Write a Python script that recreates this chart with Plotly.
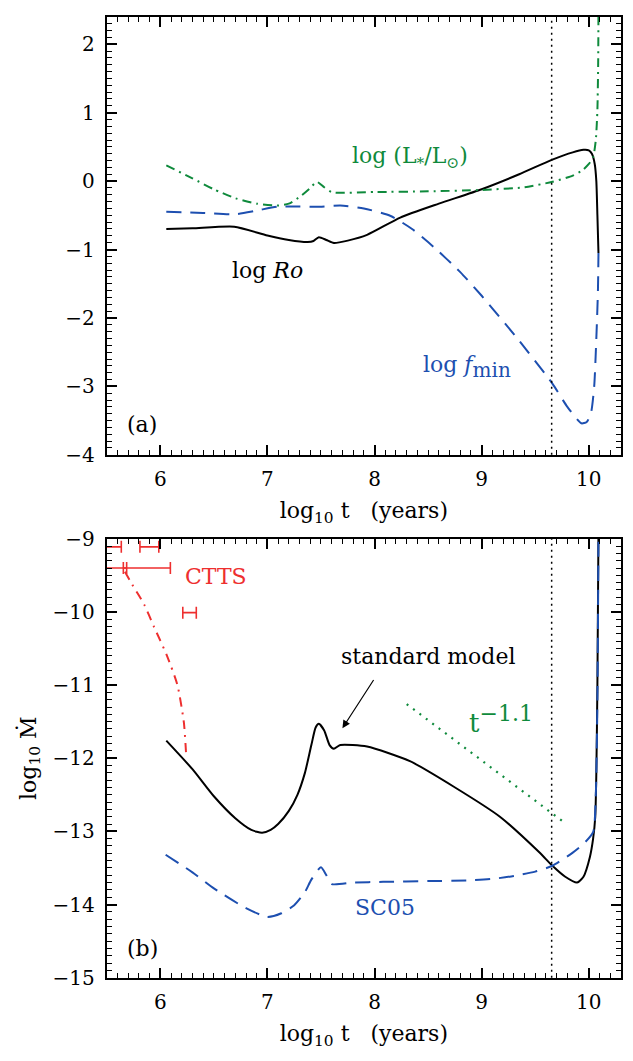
import plotly.graph_objects as go

# ---------------- data ----------------
# Panel (a)
ro_t = [6.056, 6.3, 6.69, 7.0, 7.2, 7.375, 7.43, 7.48, 7.55, 7.62, 7.75, 7.93, 8.24, 8.6, 9.0,
        9.35, 9.66, 9.85, 9.95, 10.0, 10.03, 10.055, 10.07, 10.08, 10.09]
ro_v = [-0.70, -0.69, -0.667, -0.795, -0.86, -0.89, -0.875, -0.82, -0.86, -0.905, -0.87, -0.786,
        -0.533, -0.33, -0.119, 0.10, 0.314, 0.42, 0.457, 0.45, 0.395, 0.25, 0.0, -0.5, -1.05]

fmin_t = [6.056, 6.4, 6.69, 6.9, 7.09, 7.3, 7.49, 7.68, 7.9, 8.15, 8.35, 8.55, 8.8, 9.0, 9.33,
          9.66, 9.8, 9.93, 9.98, 10.02, 10.05, 10.07, 10.085, 10.09]
fmin_v = [-0.448, -0.465, -0.486, -0.43, -0.376, -0.37, -0.376, -0.357, -0.40, -0.51, -0.70,
          -0.96, -1.33, -1.676, -2.295, -2.96, -3.30, -3.54, -3.52, -3.39, -3.0, -2.30, -1.6, -1.05]

lum_t = [6.056, 6.3, 6.5, 6.7, 6.9, 7.09, 7.2, 7.31, 7.4, 7.46, 7.53, 7.60, 8.0, 8.5, 9.0, 9.4,
         9.66, 9.85, 9.94, 10.0, 10.04, 10.065, 10.08, 10.087, 10.09]
lum_v = [0.229, 0.04, -0.12, -0.25, -0.33, -0.357, -0.33, -0.22, -0.10, -0.01, -0.09, -0.162,
         -0.16, -0.15, -0.129, -0.09, -0.01, 0.08, 0.157, 0.25, 0.348, 0.6, 1.04, 1.7, 2.5]

# Panel (b)
mdot_t = [6.056, 6.3, 6.5, 6.7, 6.85, 6.95, 7.03, 7.1, 7.2, 7.28, 7.35, 7.41, 7.45, 7.48, 7.53,
          7.58, 7.62, 7.68, 7.93, 8.33, 8.74, 9.17, 9.54, 9.66, 9.78, 9.89, 9.95, 10.01, 10.04,
          10.06, 10.07, 10.08, 10.09]
mdot_v = [-11.76, -12.15, -12.52, -12.82, -12.98, -13.02, -12.98, -12.9, -12.72, -12.5, -12.2,
          -11.82, -11.58, -11.53, -11.62, -11.82, -11.87, -11.82, -11.84, -12.04, -12.39, -12.80,
          -13.29, -13.47, -13.62, -13.70, -13.62, -13.35, -13.1, -12.8, -12.2, -11.0, -8.9]

sc05_t = [6.05, 6.3, 6.5, 6.8, 7.0, 7.13, 7.25, 7.35, 7.41, 7.5, 7.55, 7.60, 7.8, 8.08, 8.5,
          8.86, 9.1, 9.30, 9.5, 9.66, 9.85, 9.95, 10.04, 10.065, 10.08, 10.09]
sc05_v = [-13.32, -13.56, -13.78, -14.05, -14.17, -14.12, -14.01, -13.83, -13.66, -13.49, -13.6,
          -13.72, -13.70, -13.69, -13.68, -13.67, -13.65, -13.61, -13.55, -13.47, -13.29, -13.17,
          -13.01, -12.5, -11.2, -8.9]

ctts_t = [5.67, 5.74, 5.85, 5.94, 6.06, 6.16, 6.22, 6.24]
ctts_v = [-9.45, -9.63, -9.90, -10.2, -10.59, -11.0, -11.51, -11.92]

# CTTS observed age ranges (horizontal bars)
ctts_lo = [5.2, 5.81, 5.2, 5.655, 6.21]
ctts_hi = [5.636, 5.986, 5.686, 6.094, 6.336]
ctts_y = [-9.11, -9.11, -9.40, -9.40, -10.01]

# t^-1.1 reference line
pl_t = [8.30, 9.79]
pl_v = [-11.26, -12.90]

SUN_AGE = 9.653  # log10(4.5 Gyr)

x_ticks = [6, 7, 8, 9, 10]

# ---------------- style ----------------
BLACK = "#000000"
BLUE = "#1d4fb0"
GREEN = "#0f8a3c"
RED = "#ee2f2f"
FONT = "DejaVu Serif"
SM = 0.6

fig = go.Figure()

# panel (a)
fig.add_trace(go.Scatter(x=ro_t, y=ro_v, mode="lines",
                         line=dict(color=BLACK, width=2, shape="spline", smoothing=SM),
                         xaxis="x", yaxis="y"))
fig.add_trace(go.Scatter(x=fmin_t, y=fmin_v, mode="lines",
                         line=dict(color=BLUE, width=2, dash="15px,9px", shape="spline",
                                   smoothing=SM), xaxis="x", yaxis="y"))
fig.add_trace(go.Scatter(x=lum_t, y=lum_v, mode="lines",
                         line=dict(color=GREEN, width=2, dash="9px,5px,2px,5px", shape="spline",
                                   smoothing=SM), xaxis="x", yaxis="y"))

# panel (b)
fig.add_trace(go.Scatter(x=mdot_t, y=mdot_v, mode="lines",
                         line=dict(color=BLACK, width=2, shape="spline", smoothing=SM),
                         xaxis="x2", yaxis="y2"))
fig.add_trace(go.Scatter(x=sc05_t, y=sc05_v, mode="lines",
                         line=dict(color=BLUE, width=2, dash="15px,9px", shape="spline",
                                   smoothing=SM), xaxis="x2", yaxis="y2"))
fig.add_trace(go.Scatter(x=ctts_t, y=ctts_v, mode="lines",
                         line=dict(color=RED, width=2, dash="9px,6px,2px,6px", shape="spline",
                                   smoothing=SM), xaxis="x2", yaxis="y2"))
fig.add_trace(go.Scatter(x=pl_t, y=pl_v, mode="lines",
                         line=dict(color=GREEN, width=2.2, dash="2px,6px"),
                         xaxis="x2", yaxis="y2"))

ctts_mid = [(a + b) / 2 for a, b in zip(ctts_lo, ctts_hi)]
ctts_err = [(b - a) / 2 for a, b in zip(ctts_lo, ctts_hi)]
fig.add_trace(go.Scatter(x=ctts_mid, y=ctts_y, mode="markers",
                         marker=dict(size=1, color="rgba(0,0,0,0)"),
                         error_x=dict(type="data", array=ctts_err, symmetric=True,
                                      color=RED, thickness=1.6, width=6),
                         xaxis="x2", yaxis="y2"))

# Sun's age dotted vertical lines
for xr, yr in (("x", "y"), ("x2", "y2")):
    fig.add_shape(type="line", xref=xr, yref=yr + " domain", x0=SUN_AGE, x1=SUN_AGE, y0=0, y1=1,
                  line=dict(color=BLACK, width=1.5, dash="2px,4px"))

# ---------------- axes ----------------
XDOM = [0.1686, 0.981]
TOP_DOM = [0.573, 0.9953]
BOT_DOM = [0.0688, 0.4920]

common = dict(showline=True, linecolor=BLACK, linewidth=2, mirror="allticks", ticks="inside",
              ticklen=10, tickwidth=1.5, tickcolor=BLACK, showgrid=False, zeroline=False,
              tickfont=dict(family=FONT, size=20, color=BLACK),
              minor=dict(ticks="inside", ticklen=5, tickwidth=1.2, tickcolor=BLACK, dtick=0.1,
                         showgrid=False))

xtitle = "log<sub>10</sub> t\u00a0\u00a0\u00a0(years)"

fig.update_layout(
    width=633, height=1061, margin=dict(l=0, r=0, t=0, b=0),
    paper_bgcolor="white", plot_bgcolor="white", showlegend=False,
    font=dict(family=FONT, color=BLACK),
    xaxis=dict(domain=XDOM, anchor="y", range=[5.5, 10.3], tickvals=x_ticks,
               ticklabelstandoff=5,
               title=dict(text=xtitle, font=dict(family=FONT, size=22), standoff=13), **common),
    yaxis=dict(domain=TOP_DOM, anchor="x", range=[-4, 2.4], dtick=1, tick0=0,
               ticklabelstandoff=6, **common),
    xaxis2=dict(domain=XDOM, anchor="y2", range=[5.5, 10.3], tickvals=x_ticks,
                ticklabelstandoff=5,
                title=dict(text=xtitle, font=dict(family=FONT, size=22), standoff=13), **common),
    yaxis2=dict(domain=BOT_DOM, anchor="x2", range=[-15, -9], dtick=1, tick0=0,
                ticklabelstandoff=6,
                title=dict(text="log<sub>10</sub> \u1e40", font=dict(family=FONT, size=22),
                           standoff=10), **common),
)

ann_font = dict(family=FONT, size=22)
annotations = [
    dict(x=8.33, y=0.35, xref="x", yref="y", text="log (L<sub>*</sub>/L<sub>\u2299</sub>)",
         font=dict(color=GREEN, **ann_font)),
    dict(x=7.0, y=-1.3, xref="x", yref="y", text="log <i>Ro</i>",
         font=dict(color=BLACK, **ann_font)),
    dict(x=8.86, y=-2.72, xref="x", yref="y",
         text="log <i>f</i><sub><span style='font-size:20px'>min</span></sub>",
         font=dict(color=BLUE, **ann_font)),
    dict(x=5.83, y=-3.56, xref="x", yref="y", text="(a)", font=dict(color=BLACK, **ann_font)),
    dict(x=8.50, y=-10.61, xref="x2", yref="y2", text="standard model",
         font=dict(color=BLACK, **ann_font)),
    dict(x=9.18, y=-11.47, xref="x2", yref="y2",
         text="t<sup><span style='font-size:22px'>\u22121.1</span></sup>",
         font=dict(color=GREEN, family=FONT, size=26)),
    dict(x=6.52, y=-9.51, xref="x2", yref="y2", text="CTTS", font=dict(color=RED, **ann_font)),
    dict(x=8.10, y=-14.04, xref="x2", yref="y2", text="SC05", font=dict(color=BLUE, **ann_font)),
    dict(x=5.83, y=-14.6, xref="x2", yref="y2", text="(b)", font=dict(color=BLACK, **ann_font)),
    dict(x=7.70, y=-11.59, xref="x2", yref="y2", ax=8.0, ay=-10.91, axref="x2", ayref="y2",
         text="", showarrow=True, arrowhead=2, arrowsize=1.3, arrowwidth=1.2,
         arrowcolor=BLACK),
]
for a in annotations:
    a.setdefault("showarrow", False)
fig.update_layout(annotations=annotations)

fig.write_html("out.html")
